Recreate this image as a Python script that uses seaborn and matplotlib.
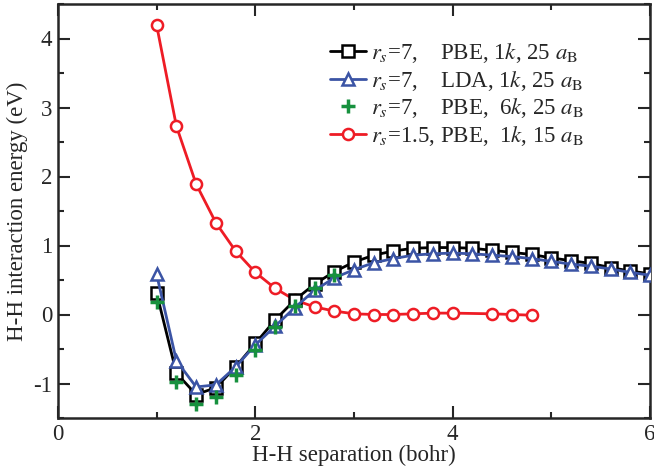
import matplotlib
matplotlib.use("Agg")
import matplotlib.pyplot as plt
import seaborn as sns
from matplotlib.ticker import MultipleLocator

# ---------- data ----------
x_rs7 = [1.0, 1.2, 1.4, 1.6, 1.8, 2.0, 2.2, 2.4, 2.6, 2.8, 3.0, 3.2, 3.4,
         3.6, 3.8, 4.0, 4.2, 4.4, 4.6, 4.8, 5.0, 5.2, 5.4, 5.6, 5.8, 6.0]
pbe_1k = [0.31, -0.85, -1.16, -1.06, -0.76, -0.42, -0.08, 0.21, 0.44, 0.62,
          0.76, 0.86, 0.92, 0.96, 0.97, 0.97, 0.96, 0.93, 0.90, 0.87,
          0.82, 0.78, 0.74, 0.68, 0.63, 0.59]
lda_1k = [0.58, -0.67, -1.05, -1.02, -0.76, -0.44, -0.17, 0.10, 0.35, 0.53,
          0.65, 0.75, 0.81, 0.86, 0.88, 0.89, 0.88, 0.86, 0.84, 0.81,
          0.77, 0.73, 0.70, 0.66, 0.61, 0.57]
x_6k = [1.0, 1.2, 1.4, 1.6, 1.8, 2.0, 2.2, 2.4, 2.6, 2.8]
pbe_6k = [0.18, -0.98, -1.29, -1.19, -0.88, -0.52, -0.18, 0.13, 0.38, 0.57]
x_rs15 = [1.0, 1.2, 1.4, 1.6, 1.8, 2.0, 2.2, 2.4, 2.6, 2.8, 3.0, 3.2, 3.4,
          3.6, 3.8, 4.0, 4.4, 4.6, 4.8]
pbe_rs15 = [4.19, 2.73, 1.89, 1.33, 0.92, 0.61, 0.38, 0.21, 0.11, 0.05,
            0.01, 0.0, 0.0, 0.01, 0.02, 0.02, 0.01, 0.0, -0.01]

labels = [
    r"$r_s$=7,    PBE, 1$k$, 25 $a_\mathrm{B}$",
    r"$r_s$=7,    LDA, 1$k$, 25 $a_\mathrm{B}$",
    r"$r_s$=7,    PBE,  6$k$, 25 $a_\mathrm{B}$",
    r"$r_s$=1.5, PBE,  1$k$, 15 $a_\mathrm{B}$",
]

BLACK = "#000000"
BLUE = "#3b54a5"
GREEN = "#17913e"
RED = "#ee1c25"
FS = 16.5

sns.set_style("ticks")
plt.rcParams["font.family"] = ["Liberation Serif", "DejaVu Serif"]
plt.rcParams["mathtext.fontset"] = "stix"
plt.rcParams["axes.unicode_minus"] = False

fig = plt.figure(figsize=(6.54, 4.70), dpi=100)
ax = fig.add_axes([58 / 654, 1 - 418 / 470, 592 / 654, 414 / 470])

common = dict(ax=ax, sort=False, estimator=None, linewidth=2.0,
              markersize=8, markerfacecolor="white", markeredgewidth=1.8)

sns.lineplot(x=x_rs15, y=pbe_rs15, color=RED, marker="o",
             markeredgecolor=RED, label=labels[3], zorder=2, **common)
sns.lineplot(x=x_rs7, y=pbe_1k, color=BLACK, marker="s",
             markeredgecolor=BLACK, label=labels[0], zorder=3, **common)
sns.lineplot(x=x_rs7, y=lda_1k, color=BLUE, marker="^",
             markeredgecolor=BLUE, label=labels[1], zorder=4, **common)
sns.lineplot(x=x_6k, y=pbe_6k, color=GREEN, marker="+", linestyle="none",
             markersize=10, markeredgewidth=2.5, markeredgecolor=GREEN,
             label=labels[2], zorder=5, ax=ax, sort=False, estimator=None)

ax.set_xlim(0, 6)
ax.set_ylim(-1.5, 4.5)
ax.xaxis.set_major_locator(MultipleLocator(2))
ax.xaxis.set_minor_locator(MultipleLocator(1))
ax.yaxis.set_major_locator(MultipleLocator(1))
ax.yaxis.set_minor_locator(MultipleLocator(0.5))
ax.tick_params(which="both", direction="in", top=True, right=True,
               labelsize=FS, width=1.5)
ax.tick_params(which="major", length=8.5, pad=4)
ax.tick_params(which="minor", length=4.3)
for s in ax.spines.values():
    s.set_linewidth(1.8)

ax.set_xlabel("H-H separation (bohr)", fontsize=FS, labelpad=0)
ax.set_ylabel("H-H interaction energy (eV)", fontsize=FS, labelpad=4)

handles, labs = ax.get_legend_handles_labels()
order = [labs.index(l) for l in labels]
ax.legend([handles[i] for i in order], [labs[i] for i in order],
          loc="upper left", bbox_to_anchor=(0.459, 0.91), frameon=False,
          fontsize=FS, handlelength=1.6, handletextpad=0.2,
          labelspacing=0.15, borderpad=0, borderaxespad=0)

fig.savefig("out.png", dpi=100)
